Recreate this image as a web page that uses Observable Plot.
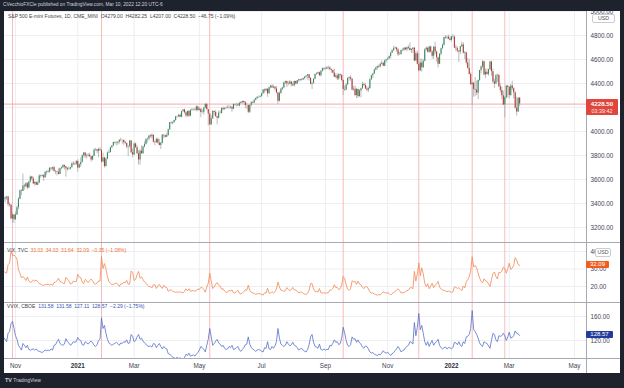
<!DOCTYPE html>
<html><head><meta charset="utf-8">
<script src="https://cdn.jsdelivr.net/npm/d3@7"></script>
<script src="https://cdn.jsdelivr.net/npm/@observablehq/plot@0.6"></script>
<style>
html,body{margin:0;padding:0}
body{width:624px;height:388px;background:#1e222d;position:relative;overflow:hidden;font-family:"Liberation Sans",Arial,sans-serif}
#chart{position:absolute;left:4px;top:11px;width:616px;height:362px;background:#fff}
.wrap{position:absolute;left:4px;width:616px}
.sep{position:absolute;background:#a7aab3}
.lg{position:absolute;font-size:5px;white-space:nowrap;color:#3c3f4a;line-height:1}
.box{position:absolute;color:#fff;font-size:6px;line-height:1;text-align:center;border-radius:1px}
.usd{position:absolute;border:0.8px solid #c9ccd4;border-radius:2px;background:#fff;color:#50535e;font-size:5.3px;line-height:7px;text-align:center}
#hdr{position:absolute;left:0;top:0;width:624px;height:11px;background:#1e222d}
</style></head><body>
<div id="chart"></div>
<script>
// ---------------- DATA ----------------
// S&P 500 E-mini futures, daily [open, high, low, close], 2020-10-21 .. 2022-03-10
const esBars = [
[3430,3460,3415,3435],[3435,3455,3405,3445],[3445,3458,3425,3455],[3455,3460,3370,3392],[3392,3405,3370,3385],[3385,3390,3265,3270],[3270,3320,3240,3305],[3305,3310,3233,3265],
[3265,3330,3260,3305],[3305,3380,3300,3365],[3365,3450,3345,3435],[3435,3515,3430,3505],[3505,3515,3465,3500],[3500,3645,3500,3545],[3545,3560,3510,3540],[3540,3575,3530,3565],[3565,3575,3515,3530],[3530,3585,3525,3580],[3580,3630,3570,3620],[3620,3625,3590,3605],[3605,3620,3560,3562],[3562,3585,3545,3575],[3575,3582,3550,3552],[3552,3585,3550,3570],[3570,3640,3565,3630],[3630,3636,3610,3625],[3625,3640,3620,3632],[3632,3640,3585,3615],
[3615,3670,3610,3658],[3658,3670,3635,3664],[3664,3680,3650,3660],[3660,3700,3655,3694],[3694,3700,3675,3687],[3687,3705,3670,3697],[3697,3710,3660,3668],[3668,3675,3640,3664],[3664,3670,3630,3660],[3660,3690,3640,3642],[3642,3695,3640,3690],[3690,3705,3680,3697],[3697,3725,3690,3717],[3717,3720,3680,3705],[3705,3710,3620,3690],[3690,3700,3670,3682],[3682,3705,3680,3685],[3685,3702,3680,3698],[3698,3740,3695,3730],[3730,3750,3715,3722],[3722,3740,3720,3727],[3727,3758,3715,3750],
[3750,3765,3660,3695],[3695,3730,3690,3722],[3722,3780,3700,3742],[3742,3805,3740,3798],[3798,3825,3780,3820],[3820,3822,3775,3794],[3794,3810,3770,3796],[3796,3815,3785,3803],[3803,3820,3785,3790],[3790,3795,3745,3762],[3762,3800,3755,3792],[3792,3855,3790,3846],[3846,3860,3835,3848],[3848,3850,3815,3835],[3835,3860,3780,3850],[3850,3865,3830,3843],[3843,3845,3735,3745],[3745,3820,3740,3780],[3780,3785,3695,3708],
[3708,3780,3700,3768],[3768,3830,3765,3820],[3820,3845,3815,3825],[3825,3870,3820,3865],[3865,3885,3855,3880],[3880,3910,3875,3908],[3908,3915,3895,3905],[3905,3915,3880,3903],[3903,3915,3885,3910],[3910,3930,3895,3928],[3928,3945,3915,3926],[3926,3930,3895,3925],[3925,3930,3885,3906],[3906,3920,3890,3900],[3900,3905,3855,3870],[3870,3880,3790,3875],[3875,3925,3860,3920],[3920,3925,3815,3823],[3823,3855,3780,3805],
[3805,3905,3800,3895],[3895,3905,3860,3864],[3864,3880,3810,3814],[3814,3840,3720,3762],[3762,3850,3720,3836],[3836,3880,3810,3815],[3815,3880,3810,3870],[3870,3915,3865,3892],[3892,3940,3885,3933],[3933,3945,3905,3937],[3937,3965,3920,3962],[3962,3975,3945,3956],[3956,3980,3935,3968],[3968,3970,3905,3910],[3910,3920,3880,3907],[3907,3945,3900,3934],[3934,3945,3895,3904],[3904,3935,3880,3883],[3883,3910,3850,3903],[3903,3975,3895,3968],[3968,3975,3940,3965],[3965,3970,3945,3953],[3953,3985,3950,3967],
[3967,4020,3960,4015],[4015,4075,4010,4072],[4072,4080,4060,4068],[4068,4080,4055,4074],[4074,4095,4065,4091],[4091,4125,4085,4123],[4123,4130,4110,4122],[4122,4140,4115,4135],[4135,4145,4115,4118],[4118,4170,4115,4164],[4164,4183,4160,4179],[4179,4185,4145,4157],[4157,4165,4115,4129],[4129,4170,4120,4167],[4167,4175,4115,4128],[4128,4185,4125,4174],[4174,4190,4170,4182],[4182,4190,4170,4181],[4181,4195,4170,4177],[4177,4215,4165,4205],[4205,4210,4165,4175],
[4175,4200,4170,4186],[4186,4190,4115,4158],[4158,4180,4150,4161],[4161,4200,4135,4195],[4195,4235,4190,4226],[4226,4235,4180,4182],[4182,4185,4045,4146],[4146,4150,4050,4057],[4057,4130,4050,4107],[4107,4175,4100,4167],[4167,4170,4130,4158],[4158,4175,4120,4122],[4122,4125,4055,4110],[4110,4170,4105,4153],[4153,4175,4145,4150],[4150,4200,4145,4191],[4191,4205,4175,4182],[4182,4200,4180,4190],[4190,4205,4185,4194],[4194,4215,4190,4198],
[4198,4215,4185,4196],[4196,4210,4190,4202],[4202,4205,4160,4186],[4186,4230,4180,4224],[4224,4230,4210,4220],[4220,4235,4205,4221],[4221,4235,4210,4213],[4213,4245,4205,4233],[4233,4250,4225,4241],[4241,4255,4230,4249],[4249,4255,4230,4240],[4240,4250,4190,4217],[4217,4235,4185,4216],[4216,4220,4150,4160],[4160,4220,4150,4218],[4218,4250,4205,4240],[4240,4250,4230,4235],[4235,4265,4235,4260],[4260,4280,4255,4275],[4275,4290,4265,4285],[4285,4295,4275,4285],[4285,4300,4280,4291],
[4291,4320,4285,4314],[4314,4350,4310,4346],[4346,4355,4315,4337],[4337,4355,4330,4352],[4352,4355,4285,4314],[4314,4370,4310,4364],[4364,4385,4355,4378],[4378,4390,4360,4363],[4363,4385,4355,4368],[4368,4375,4335,4354],[4354,4375,4315,4321],[4321,4325,4225,4252],[4252,4330,4245,4317],[4317,4360,4310,4353],[4353,4370,4340,4362],[4362,4410,4355,4406],[4406,4420,4390,4416],[4416,4420,4365,4395],[4395,4415,4380,4394],[4394,4425,4390,4413],[4413,4415,4370,4389],
[4389,4410,4375,4381],[4381,4420,4370,4417],[4417,4420,4390,4396],[4396,4425,4390,4423],[4423,4435,4410,4431],[4431,4435,4415,4426],[4426,4440,4420,4430],[4430,4445,4425,4441],[4441,4455,4430,4454],[4454,4465,4445,4462],[4462,4475,4430,4473],[4473,4475,4420,4442],[4442,4450,4390,4394],[4394,4410,4350,4400],[4400,4440,4395,4436],[4436,4480,4430,4474],[4474,4490,4470,4480],[4480,4495,4475,4490],[4490,4495,4460,4464],[4464,4505,4455,4503],[4503,4530,4495,4523],[4523,4530,4505,4517],
[4517,4535,4510,4518],[4518,4540,4515,4531],[4531,4545,4515,4529],[4529,4540,4505,4514],[4514,4520,4485,4508],[4508,4515,4480,4487],[4487,4520,4450,4453],[4453,4480,4440,4463],[4463,4480,4425,4437],[4437,4480,4425,4475],[4475,4480,4445,4468],[4468,4470,4415,4425],[4425,4430,4300,4350],[4350,4380,4335,4346],[4346,4400,4340,4387],[4387,4450,4385,4441],[4441,4455,4420,4447],[4447,4465,4420,4435],[4435,4440,4340,4345],[4345,4375,4335,4352],[4352,4380,4290,4300],
[4300,4360,4275,4350],[4350,4355,4275,4292],[4292,4350,4285,4338],[4338,4360,4280,4356],[4356,4410,4350,4392],[4392,4405,4375,4384],[4384,4400,4350,4354],[4354,4375,4330,4343],[4343,4370,4325,4357],[4357,4440,4355,4431],[4431,4470,4425,4464],[4464,4485,4440,4479],[4479,4520,4475,4512],[4512,4535,4505,4529],[4529,4545,4510,4542],[4542,4555,4525,4538],[4538,4570,4530,4560],[4560,4590,4555,4568],[4568,4575,4540,4544],[4544,4595,4540,4589],[4589,4600,4570,4598],
[4598,4615,4590,4606],[4606,4630,4600,4624],[4624,4660,4605,4653],[4653,4680,4650,4673],[4673,4710,4665,4690],[4690,4705,4685,4695],[4695,4700,4660,4679],[4679,4690,4625,4639],[4639,4660,4635,4642],[4642,4680,4635,4676],[4676,4690,4665,4676],[4676,4700,4665,4694],[4694,4700,4675,4682],[4682,4705,4665,4698],[4698,4715,4680,4691],[4691,4740,4670,4676],[4676,4690,4650,4684],[4684,4700,4650,4694],[4694,4700,4580,4588],[4588,4665,4585,4648],[4648,4670,4555,4560],
[4560,4650,4495,4506],[4506,4600,4500,4570],[4570,4605,4495,4531],[4531,4600,4525,4585],[4585,4690,4580,4680],[4680,4705,4670,4694],[4694,4700,4655,4661],[4661,4710,4650,4705],[4705,4710,4655,4662],[4662,4675,4605,4628],[4628,4710,4600,4703],[4703,4745,4640,4662],[4662,4670,4580,4614],[4614,4620,4530,4561],[4561,4650,4560,4643],[4643,4695,4630,4690],[4690,4730,4685,4719],[4719,4785,4715,4784],[4784,4800,4770,4779],[4779,4795,4765,4786],[4786,4805,4765,4771],[4771,4790,4755,4758],
[4758,4795,4745,4790],[4790,4808,4765,4787],[4787,4795,4690,4695],[4695,4720,4665,4689],[4689,4705,4655,4670],[4670,4675,4575,4663],[4663,4710,4640,4706],[4706,4745,4700,4720],[4720,4740,4645,4652],[4652,4665,4600,4656],[4656,4660,4555,4570],[4570,4610,4520,4525],[4525,4600,4470,4475],[4475,4490,4385,4390],[4390,4410,4212,4402],[4402,4410,4285,4350],[4350,4450,4290,4343],[4343,4420,4300,4320],[4320,4430,4265,4425],[4425,4510,4415,4508],
[4508,4545,4480,4538],[4538,4590,4525,4582],[4582,4585,4465,4470],[4470,4520,4440,4493],[4493,4520,4470,4476],[4476,4520,4460,4515],[4515,4585,4510,4580],[4580,4585,4460,4497],[4497,4520,4395,4412],[4412,4435,4360,4395],[4395,4475,4390,4465],[4465,4480,4410,4468],[4468,4470,4365,4372],[4372,4400,4320,4342],[4342,4370,4265,4298],[4298,4335,4215,4220],[4220,4290,4114,4282],[4282,4385,4270,4378],[4378,4385,4280,4367],
[4367,4375,4270,4300],[4300,4390,4290,4380],[4380,4420,4340,4357],[4357,4365,4270,4322],[4322,4330,4188,4193],[4193,4285,4129,4163],[4163,4285,4160,4275.25],[4279,4282.25,4207,4228.5]
];
// VIX (TVC) daily closes, same dates
const vixClose = [
28.6,28.1,27.6,32.5,33.4,40.3,37.6,38.0,
37.1,35.5,29.6,27.6,24.9,25.8,24.8,23.5,25.4,23.1,22.4,22.7,23.8,23.1,23.7,22.7,21.6,21.3,20.8,20.6,
21.2,21.0,21.3,20.8,21.3,20.7,22.3,22.5,23.3,24.7,22.9,22.5,21.9,21.6,25.2,24.2,23.3,21.5,21.7,23.1,22.8,22.8,
27.0,25.3,25.1,22.4,21.6,24.1,23.3,22.2,23.3,24.3,23.2,21.6,21.3,21.9,23.2,23.0,37.2,30.2,33.1,
30.2,25.6,22.9,21.8,20.9,21.2,21.6,22.0,21.3,20.0,21.5,21.5,22.5,22.1,23.5,21.3,21.3,28.9,28.0,
23.4,24.1,26.7,28.6,24.7,25.5,24.0,22.6,21.9,20.7,20.0,19.8,19.2,21.0,21.0,18.9,20.3,21.2,19.8,18.9,20.7,19.6,19.4,
17.3,17.9,18.1,17.2,17.0,16.7,16.9,16.7,17.0,16.6,16.3,17.3,18.7,17.5,18.7,17.3,17.6,17.6,17.3,17.6,18.6,
18.3,19.5,19.2,18.4,16.7,19.7,21.8,27.6,23.1,18.8,19.7,21.3,22.2,20.7,20.2,18.4,18.8,17.4,16.7,16.8,
17.9,17.5,18.0,16.4,16.4,17.1,17.9,16.1,15.7,16.4,17.0,18.2,17.8,20.7,17.9,16.7,16.3,16.0,15.6,15.8,16.0,15.8,
15.5,15.1,16.4,16.2,19.0,16.2,16.2,17.1,16.3,17.0,18.5,22.5,19.7,17.9,17.7,17.2,17.6,19.4,18.3,17.7,18.2,
19.5,18.0,18.0,17.3,16.2,16.7,16.8,16.1,15.6,15.5,16.1,17.9,21.6,21.7,18.6,17.2,17.2,16.8,18.8,16.4,16.2,16.5,
16.1,16.4,16.4,18.0,18.0,18.8,21.0,19.4,19.5,18.2,18.7,20.8,25.7,24.4,20.9,18.6,17.8,18.8,23.3,22.6,23.1,
21.2,23.0,21.3,21.0,19.5,18.8,20.0,19.9,18.6,16.9,16.3,16.3,15.7,15.5,15.0,15.4,15.2,16.0,17.0,16.5,16.3,
16.4,16.0,15.1,16.0,16.5,17.2,17.8,18.7,17.7,16.3,16.5,16.4,17.1,17.6,17.9,19.2,19.4,18.6,28.6,23.0,27.2,
33.5,26.1,30.7,27.2,21.9,19.9,21.6,18.7,20.3,21.9,19.3,20.6,21.6,22.9,19.7,18.6,18.0,17.7,17.5,17.0,17.3,17.2,
16.6,16.9,19.7,19.6,18.8,19.4,18.4,17.6,20.3,19.2,22.8,23.9,25.6,28.9,37.0,31.2,32.0,30.5,27.7,24.8,
23.0,22.1,24.4,23.2,22.9,21.4,20.0,23.9,27.4,28.3,25.7,24.3,28.1,27.8,28.8,31.0,30.3,27.6,30.2,
33.3,29.7,30.5,32.0,36.5,35.1,32.5,32.09
];
// VVIX (CBOE) daily closes, same dates
const vvixClose = [
125,122,118,132,135,148,152,140,
128,122,112,108,104,115,112,108,112,105,104,105,106,104,106,103,102,101,100,102,
104,103,104,103,106,104,112,113,118,122,115,113,112,114,123,118,116,112,114,118,117,118,
125,121,120,113,112,118,116,114,117,119,116,112,110,113,120,122,158,140,145,
132,122,116,114,112,114,115,117,115,112,116,115,118,117,121,115,116,130,127,
118,120,126,130,122,124,119,116,114,111,110,111,109,115,114,108,112,115,110,106,110,107,106,
98,97,95,92,91,90,92,90,91,89,88,92,97,95,99,94,95,96,94,97,100,
104,110,108,105,101,112,122,140,126,112,115,119,122,116,114,110,112,107,105,106,
110,108,112,105,106,108,110,104,102,105,108,113,114,126,114,108,106,104,102,104,105,104,
102,101,108,107,118,106,105,110,107,111,118,140,124,114,112,110,112,118,114,111,113,
117,112,111,108,104,106,107,104,102,101,105,113,126,130,117,110,109,107,114,105,104,106,
104,105,105,112,111,115,121,117,118,113,115,124,142,132,120,112,110,113,126,122,123,
117,121,116,114,109,107,111,110,106,101,99,100,97,96,95,97,96,99,103,100,99,
100,98,95,98,100,103,106,110,106,101,103,104,108,110,112,118,117,114,150,128,142,
165,138,145,132,118,112,118,110,116,120,112,116,118,122,112,108,106,108,109,106,108,108,
106,108,117,116,113,118,112,110,118,115,126,127,130,140,170,138,135,130,124,116,
112,110,118,116,115,111,107,120,132,130,121,118,128,127,128,132,128,120,126,
134,124,125,128,136,132,130.86,128.57
];
const lastDate = "2022-03-10";
const holidays = ["2020-11-26","2020-12-25","2021-01-01","2021-01-18","2021-02-15","2021-04-02","2021-05-31","2021-07-05","2021-09-06","2021-11-25","2021-12-24","2022-01-17","2022-02-21"];
const tickMonths = ["2020-11-01","2021-01-01","2021-03-01","2021-05-01","2021-07-01","2021-09-01","2021-11-01","2022-01-01","2022-03-01","2022-05-01"];
const tickLabels = ["Nov","2021","Mar","May","Jul","Sep","Nov","2022","Mar","May"];
const eventDates = ["2020-10-29","2021-01-27","2021-05-12","2021-09-20","2021-12-01","2022-01-24","2022-02-24"];
const priceTicks = [3200,3400,3600,3800,4000,4200,4400,4600,4800,5000];
const priceLabelTicks = [3200,3400,3600,3800,4000,4400,4600,4800,5000]; // 4200 sits under the last-price label
const vixTicks = [20,30,40];
const vvixTicks = [120,160];

// ---------------- TRADING CALENDAR ----------------
const hol = new Set(holidays);
const ds = d => d.toISOString().slice(0,10);
const isTrading = d => { const w = d.getUTCDay(); return w !== 0 && w !== 6 && !hol.has(ds(d)); };
const days = [];
let d = new Date(lastDate + "T00:00:00Z");
while (days.length < esBars.length) { if (isTrading(d)) days.unshift(new Date(d)); d.setUTCDate(d.getUTCDate() - 1); }
d = new Date(lastDate + "T00:00:00Z"); d.setUTCDate(d.getUTCDate() + 1);
while (ds(d) <= "2022-05-31") { if (isTrading(d)) days.push(new Date(d)); d.setUTCDate(d.getUTCDate() + 1); }
const idxOf = s => days.findIndex(x => ds(x) >= s);
const nES = esBars.length;
const tickIdx = tickMonths.map(idxOf);
const eventIdx = eventDates.map(idxOf);
const iA = tickIdx[0], iB = tickIdx[tickIdx.length - 1];
const ppb = (574 - 15) / (iB - iA);
const x0 = iA - (15 - 4) / ppb, x1 = x0 + 582 / ppb;

const bars = esBars.map((b, k) => ({i: k, o: b[0], h: b[1], l: b[2], c: b[3]}));
const vix = vixClose.map((v, k) => ({i: nES - vixClose.length + k, v}));
const vvix = vvixClose.map((v, k) => ({i: nES - vvixClose.length + k, v}));

// ---------------- PLOTS ----------------
const font = "'Liberation Sans', Arial, sans-serif";
const gridC = "#eceef2", pink = "#f6bcbc";
const baseStyle = {background: "transparent", fontFamily: font, fontSize: "6.3px", color: "#434651", overflow: "visible"};
function mount(el, top) { const w = document.createElement("div"); w.className = "wrap"; w.style.top = top + "px"; w.appendChild(el); document.body.appendChild(w); return el; }

const main = Plot.plot({
  width: 616, height: 231, marginTop: 0, marginBottom: 0, marginLeft: 0, marginRight: 34,
  style: baseStyle,
  x: {domain: [x0, x1], axis: null},
  y: {domain: [3075, 5000], axis: "right", ticks: priceLabelTicks, tickFormat: d3.format(".2f"), tickSize: 0, tickPadding: 4, label: null},
  marks: [
    Plot.ruleY(priceTicks, {stroke: gridC}),
    Plot.ruleX(tickIdx, {stroke: gridC, clip: true}),
    Plot.ruleX(eventIdx, {stroke: pink}),
    Plot.ruleY([esBars[nES - 1][3]], {stroke: "#f5aaaa"}),
    Plot.ruleX(bars, {x: "i", y1: "l", y2: "h", stroke: "#ababab", strokeWidth: 0.8, clip: true}),
    Plot.ruleX(bars.filter(b => b.c >= b.o), {x: "i", y1: "o", y2: "c", stroke: "#318c62", strokeWidth: 1.05, clip: true}),
    Plot.ruleX(bars.filter(b => b.c < b.o), {x: "i", y1: "o", y2: "c", stroke: "#b5352f", strokeWidth: 1.05, clip: true})
  ]
});
mount(main, 11);

const vixPlot = Plot.plot({
  width: 616, height: 60, marginTop: 0, marginBottom: 0, marginLeft: 0, marginRight: 34,
  style: baseStyle,
  x: {domain: [x0, x1], axis: null},
  y: {domain: [10.86, 45.14], axis: "right", ticks: vixTicks, tickFormat: d3.format(".2f"), tickSize: 0, tickPadding: 4, label: null},
  marks: [
    Plot.ruleY(vixTicks, {stroke: gridC}),
    Plot.ruleX(tickIdx, {stroke: gridC, clip: true}),
    Plot.ruleX(eventIdx, {stroke: pink}),
    Plot.line(vix, {x: "i", y: "v", stroke: "#f38f5c", strokeWidth: 0.85, clip: true})
  ]
});
mount(vixPlot, 242);

const vvixPlot = Plot.plot({
  width: 616, height: 71, marginTop: 0, marginBottom: 15, marginLeft: 0, marginRight: 34,
  style: baseStyle,
  x: {domain: [x0, x1], axis: "bottom", ticks: tickIdx, tickFormat: i => tickLabels[tickIdx.indexOf(i)], tickSize: 0, tickPadding: 5, label: null},
  y: {domain: [90, 183.3], axis: "right", ticks: vvixTicks, tickFormat: d3.format(".2f"), tickSize: 0, tickPadding: 4, label: null},
  marks: [
    Plot.ruleY(vvixTicks, {stroke: gridC}),
    Plot.ruleX(tickIdx, {stroke: gridC, clip: true}),
    Plot.ruleX(eventIdx, {stroke: pink}),
    Plot.line(vvix, {x: "i", y: "v", stroke: "#5770c8", strokeWidth: 0.8, clip: true})
  ]
});
mount(vvixPlot, 302);
d3.select(vvixPlot).selectAll("text").filter(function(){ return /^20\d\d$/.test(this.textContent); }).attr("font-weight", "bold").attr("fill", "#2a2e39");

// ---------------- OVERLAYS ----------------
function add(html, css, cls) { const e = document.createElement("div"); if (cls) e.className = cls; e.style.cssText += css; e.innerHTML = html; document.body.appendChild(e); return e; }
// separators
add("", "left:4px;top:242px;width:616px;height:1px", "sep");
add("", "left:4px;top:302px;width:616px;height:1px", "sep");
add("", "left:4px;top:358px;width:616px;height:1px", "sep");
add("", "left:586px;top:11px;width:1px;height:362px", "sep");
// header band
const hdr = add('<div style="position:absolute;left:3px;top:2.5px;font-size:4.8px;color:#d1d4dc;white-space:nowrap;line-height:1">CVecchioFXCle published on TradingView.com, Mar 10, 2022 12:20 UTC-6</div>', "", "");
hdr.id = "hdr";
// legends
const m = "\u2212";
add('S&amp;P 500 E-mini Futures, 1D, CME_MINI&nbsp; O4279.00&nbsp; H4282.25&nbsp; L4207.00&nbsp; C4228.50&nbsp; ' + m + '46.75 (' + m + '1.09%)', "left:8px;top:14.3px;color:#3c3f4a", "lg");
add('VIX, TVC&nbsp; <span style="color:#f0712c">33.03&nbsp; 34.03&nbsp; 31.64&nbsp; 32.09&nbsp; ' + m + '0.35 (' + m + '1.08%)</span>', "left:7px;top:247.5px", "lg");
add('VVIX, CBOE&nbsp; <span style="color:#3552b5">131.58&nbsp; 131.58&nbsp; 127.11&nbsp; 128.57&nbsp; ' + m + '2.29 (' + m + '1.75%)</span>', "left:7px;top:304px", "lg");
// USD boxes
add("USD", "left:592px;top:14px;width:21px;height:7px", "usd");
add("USD", "left:595px;top:247.5px;width:14px;height:7px", "usd");
// last value labels
const yMain = main.scale("y").apply(4228.5) + 11;
add('<div style="font-size:6.2px;font-weight:bold;padding-top:1.5px">4228.50</div><div style="font-size:5.4px;padding-top:1.5px;opacity:.9">03:39:42</div>', `left:586px;top:${yMain - 4.2}px;width:32px;height:16px;background:#e0463b`, "box");
const yV = vixPlot.scale("y").apply(32.09) + 242;
add("32.09", `left:586px;top:${yV - 3.6}px;width:23px;height:7.2px;line-height:7.2px;background:#f05d1f`, "box");
const yW = vvixPlot.scale("y").apply(128.57) + 302;
add("128.57", `left:586px;top:${yW - 3.6}px;width:27px;height:7.2px;line-height:7.2px;background:#1f3c9e`, "box");
// bottom logo
add('<b style="font-size:5.5px">TV</b> <span style="font-size:5px">TradingView</span>', "left:5px;top:378px;color:#d1d4dc;white-space:nowrap;line-height:1", "lg");
</script>
</body></html>
